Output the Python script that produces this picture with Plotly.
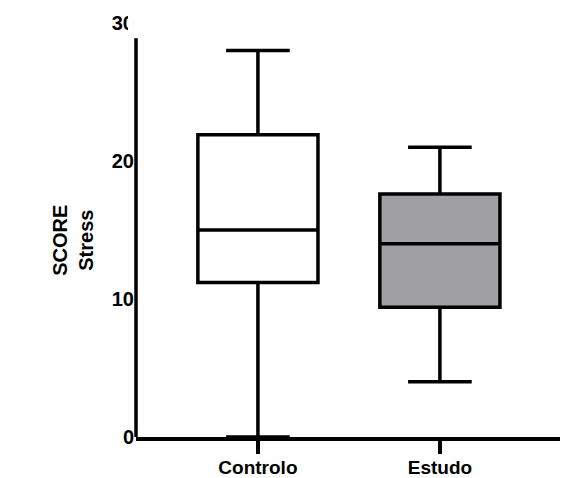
import plotly.graph_objects as go

categories = ["Controlo", "Estudo"]
lower = [0, 4]
q1 = [11.2, 9.4]
median = [15, 14]
q3 = [21.9, 17.6]
upper = [28, 21]
fills = ["#ffffff", "#a0a0a4"]
y_ticks = [0, 10, 20, 30]

FAM = "Arial, Liberation Sans, sans-serif"

fig = go.Figure()
for i, c in enumerate(categories):
    fig.add_trace(go.Box(
        x=[c], q1=[q1[i]], median=[median[i]], q3=[q3[i]],
        lowerfence=[lower[i]], upperfence=[upper[i]],
        fillcolor=fills[i], line=dict(color="black", width=3.5),
        width=0.66, whiskerwidth=0.53, boxpoints=False, showlegend=False,
        hoverinfo="skip",
    ))

# page body has an 8px margin, so the figure is sized/offset to compensate
fig.update_layout(
    width=566, height=470,
    margin=dict(l=128, r=14, t=15, b=41, autoexpand=False),
    paper_bgcolor="white", plot_bgcolor="white",
    boxmode="overlay",
    font=dict(family=FAM, size=20, color="black"),
    xaxis=dict(
        type="category", range=[-0.67, 1.66], automargin=False,
        tickvals=categories, ticktext=["<b>%s</b>" % c for c in categories],
        showline=True, linewidth=3.5, linecolor="black",
        ticks="outside", ticklen=13, tickwidth=3.5, tickcolor="black",
        showgrid=False, zeroline=False, ticklabelstandoff=-3,
        tickfont=dict(family=FAM, size=19, color="black"),
    ),
    yaxis=dict(
        range=[0, 30], tickvals=y_ticks, ticktext=["<b>%d</b>" % v for v in y_ticks],
        automargin=False,
        showline=False, ticks="", showgrid=False, zeroline=False,
        ticklabelstandoff=1,
        tickfont=dict(family=FAM, size=20, color="black"),
    ),
    shapes=[
        dict(type="line", xref="paper", yref="y", x0=0, x1=0, y0=0, y1=28.9,
             line=dict(color="black", width=3.5)),
        dict(type="rect", xref="paper", yref="paper", x0=-0.0189, x1=-0.0055,
             y0=0.965, y1=1.04, fillcolor="white", line=dict(width=0), layer="above"),
    ],
    annotations=[dict(
        text="<b>SCORE</b><br><b>Stress</b>", textangle=-90,
        xref="paper", yref="paper", x=-0.149, y=0.476, xanchor="center", yanchor="middle",
        showarrow=False, align="center",
        font=dict(family=FAM, size=20, color="black"),
    )],
)

fig.write_html("out.html")
